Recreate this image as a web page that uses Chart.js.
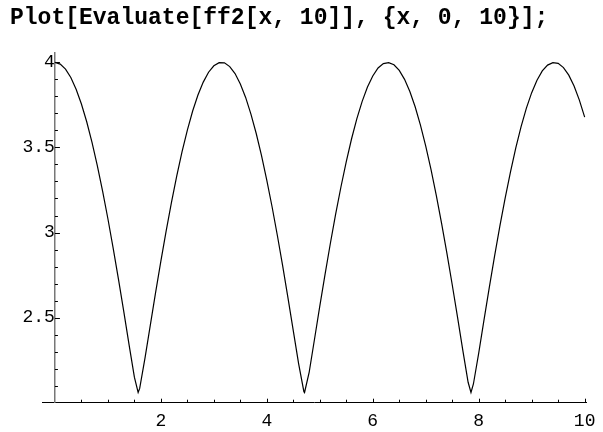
<!DOCTYPE html>
<html>
<head>
<meta charset="utf-8">
<script src="https://cdn.jsdelivr.net/npm/chart.js@4"></script>
<style>
  body { margin: 0; background: #fff; }
  #wrap { position: relative; width: 603px; height: 432px; }
  #title {
    position: absolute; left: 10px; top: 7px;
    font: bold 23px/23px "Liberation Mono", monospace;
    color: #000; white-space: pre;
  }
  canvas { position: absolute; left: 0; top: 0; }
</style>
</head>
<body>
<div id="wrap">
  <canvas id="myChart" width="603" height="432"></canvas>
  <div id="title">Plot[Evaluate[ff2[x, 10]], {x, 0, 10}];</div>
</div>
<script>
// sampled points of ff2[x, 10] on 0..10
const xs = [0.0, 0.1, 0.2, 0.3, 0.4, 0.5, 0.6, 0.7, 0.8, 0.9,
  1.0, 1.1, 1.2, 1.3, 1.4, 1.5, 1.571, 1.6, 1.7, 1.8, 1.9,
  2.0, 2.1, 2.2, 2.3, 2.4, 2.5, 2.6, 2.7, 2.8, 2.9,
  3.0, 3.1, 3.2, 3.3, 3.4, 3.5, 3.6, 3.7, 3.8, 3.9,
  4.0, 4.1, 4.2, 4.3, 4.4, 4.5, 4.6, 4.7, 4.712, 4.8, 4.9,
  5.0, 5.1, 5.2, 5.3, 5.4, 5.5, 5.6, 5.7, 5.8, 5.9,
  6.0, 6.1, 6.2, 6.3, 6.4, 6.5, 6.6, 6.7, 6.8, 6.9,
  7.0, 7.1, 7.2, 7.3, 7.4, 7.5, 7.6, 7.7, 7.8, 7.854, 7.9,
  8.0, 8.1, 8.2, 8.3, 8.4, 8.5, 8.6, 8.7, 8.8, 8.9,
  9.0, 9.1, 9.2, 9.3, 9.4, 9.5, 9.6, 9.7, 9.8, 9.9, 10.0];

const ys = [4.000, 3.990, 3.960, 3.911, 3.842, 3.755, 3.651, 3.530, 3.393, 3.243,
  3.081, 2.907, 2.725, 2.535, 2.340, 2.150, 2.060, 2.084, 2.262, 2.454, 2.647,
  2.832, 3.010, 3.177, 3.333, 3.475, 3.602, 3.714, 3.808, 3.884, 3.942,
  3.980, 3.998, 3.997, 3.975, 3.934, 3.873, 3.794, 3.696, 3.582, 3.452,
  3.307, 3.150, 2.981, 2.802, 2.615, 2.422, 2.230, 2.065, 2.060, 2.180, 2.373,
  2.567, 2.756, 2.937, 3.109, 3.269, 3.417, 3.551, 3.669, 3.771, 3.855,
  3.920, 3.967, 3.993, 3.998, 3.986, 3.953, 3.900, 3.829, 3.739, 3.631,
  3.508, 3.369, 3.217, 3.052, 2.877, 2.693, 2.503, 2.307, 2.120, 2.060, 2.110,
  2.291, 2.487, 2.678, 2.863, 3.039, 3.204, 3.357, 3.497, 3.622, 3.731,
  3.822, 3.895, 3.950, 3.984, 3.998, 3.994, 3.969, 3.925, 3.861, 3.778, 3.678];

// labelled ticks
const xLabels = [2, 4, 6, 8, 10];
const yLabels = [2.5, 3, 3.5, 4];

// small tick marks (drawn inward from the axes)
const xMinor = [0.5, 1, 1.5, 2.5, 3, 3.5, 4.5, 5, 5.5, 6.5, 7, 7.5, 8.5, 9, 9.5];
const yMinor = [2.1, 2.2, 2.3, 2.4, 2.6, 2.7, 2.8, 2.9, 3.1, 3.2, 3.3, 3.4,
  3.6, 3.7, 3.8, 3.9];

let points = xs.map((x, i) => ({ x: x, y: ys[i] }));

const tickFont = { family: '"Liberation Mono", monospace', size: 18 };

// tick marks pointing into the plot, Mathematica style
const inwardTicks = {
  id: 'inwardTicks',
  afterDraw(chart) {
    const ctx = chart.ctx;
    const sx = chart.scales.x, sy = chart.scales.y;
    const x0 = sx.getPixelForValue(0);
    const yb = sy.getPixelForValue(2);
    ctx.save();
    ctx.strokeStyle = '#000';
    ctx.lineWidth = 1;
    ctx.beginPath();
    const tickX = (v, len) => {
      const px = Math.round(sx.getPixelForValue(v)) + 0.5;
      ctx.moveTo(px, yb); ctx.lineTo(px, yb - len);
    };
    const tickY = (v, len) => {
      const py = Math.round(sy.getPixelForValue(v)) + 0.5;
      ctx.moveTo(x0, py); ctx.lineTo(x0 + len, py);
    };
    xLabels.forEach(v => tickX(v, 4));
    xMinor.forEach(v => tickX(v, 3));
    yLabels.forEach(v => tickY(v, 5));
    yMinor.forEach(v => tickY(v, 3));
    ctx.stroke();
    ctx.restore();
  }
};

new Chart(document.getElementById('myChart'), {
  type: 'line',
  data: {
    datasets: [{
      data: points,
      borderColor: '#000',
      borderWidth: 1.2,
      pointRadius: 0,
      tension: 0,
      fill: false
    }]
  },
  options: {
    responsive: false,
    animation: false,
    devicePixelRatio: 1,
    layout: { padding: { left: 42, right: 13, top: 53, bottom: 0 } },
    plugins: { legend: { display: false }, tooltip: { enabled: false } },
    scales: {
      x: {
        type: 'linear',
        min: -0.244,
        max: 10.03,
        afterBuildTicks: s => { s.ticks = xLabels.map(v => ({ value: v })); },
        afterFit: s => { s.height = 29.3; },
        ticks: { font: tickFont, color: '#000', padding: 7.5, maxRotation: 0,
          callback: v => String(v) },
        grid: { display: false, drawTicks: false },
        border: { display: true, color: '#000', width: 1 }
      },
      y: {
        type: 'linear',
        position: { x: 0 },
        min: 2.0,
        max: 4.055,
        afterBuildTicks: s => { s.ticks = yLabels.map(v => ({ value: v })); },
        ticks: { font: tickFont, color: '#000', padding: 7,
          callback: v => String(v) },
        grid: { display: false, drawTicks: false },
        border: { display: true, color: '#777', width: 1.5 }
      }
    }
  },
  plugins: [inwardTicks]
});
</script>
</body>
</html>
